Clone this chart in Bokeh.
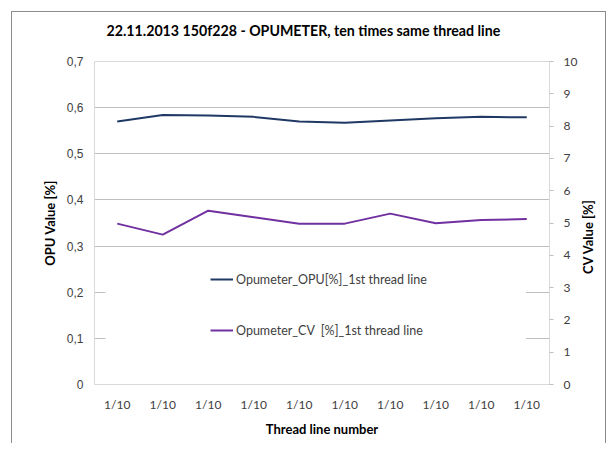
import math
from bokeh.plotting import figure
from bokeh.models import (Range1d, LinearAxis, FixedTicker, CustomJSTickFormatter,
                          Legend, LegendItem, BoxAnnotation, Title)
from bokeh.embed import file_html
from bokeh.resources import INLINE

# ---- data ----
categories = ["1/10"] * 10
opu_values = [0.570, 0.584, 0.583, 0.580, 0.570, 0.567, 0.572, 0.577, 0.580, 0.579]
cv_values = [4.98, 4.64, 5.38, 5.18, 4.98, 4.98, 5.29, 4.99, 5.09, 5.12]
left_ticks = [0, 0.1, 0.2, 0.3, 0.4, 0.5, 0.6, 0.7]
right_ticks = [0, 1, 2, 3, 4, 5, 6, 7, 8, 9, 10]
title_text = "22.11.2013 150f228 - OPUMETER,  ten times same thread line"
opu_label = "Opumeter_OPU[%]_1st thread line"
cv_label = "Opumeter_CV  [%]_1st thread line"
left_axis_title = "OPU Value [%]"
right_axis_title = "CV Value [%]"
x_axis_title = "Thread line number"

xs = list(range(1, len(categories) + 1))

p = figure(width=595, height=432, output_backend="svg", toolbar_location=None,
           x_range=Range1d(0.5, len(categories) + 0.5), y_range=Range1d(0, 0.7),
           min_border_left=82, min_border_right=51, min_border_top=49,
           min_border_bottom=60, background_fill_color="white",
           border_fill_color="white")
p.styles = {"border": "1px solid #8c8c8c", "border-bottom": "none",
            "margin-left": "11px", "margin-top": "11px"}

p.extra_y_ranges = {"cv": Range1d(0, 10)}

p.outline_line_color = "#d9d9d9"
p.outline_line_width = 1

# title: spacer next to the plot area, real title further out
p.add_layout(Title(text="\u00a0", text_font_size="1px", standoff=20), "above")
p.title = Title(text=title_text, align="left", offset=12, standoff=0,
                text_font="Lato", text_font_style="bold", text_font_size="14.2px",
                text_color="#000000")

# grid
p.xgrid.visible = False
p.ygrid.ticker = FixedTicker(ticks=left_ticks)
p.ygrid.grid_line_color = "#bfbfbf"
p.ygrid.grid_line_width = 1

# left axis
ya = p.yaxis[0]
ya.ticker = FixedTicker(ticks=left_ticks)
ya.formatter = CustomJSTickFormatter(code="return tick == 0 ? '0' : tick.toFixed(1).replace('.', ',');")
ya.axis_line_color = None
ya.major_tick_line_color = None
ya.minor_tick_line_color = None
ya.major_tick_out = 0
ya.major_tick_in = 0
ya.major_label_standoff = 11
ya.major_label_text_font = "Liberation Sans"
ya.major_label_text_font_size = "12px"
ya.major_label_text_color = "#404040"
ya.axis_label = left_axis_title
ya.axis_label_text_font = "Lato"
ya.axis_label_text_font_style = "bold"
ya.axis_label_text_font_size = "13px"
ya.axis_label_text_color = "#000000"
ya.axis_label_standoff = 6

# bottom axis
xa = p.xaxis[0]
xa.ticker = FixedTicker(ticks=xs)
xa.major_label_overrides = {x: c for x, c in zip(xs, categories)}
xa.axis_line_color = None
xa.major_tick_line_color = None
xa.minor_tick_line_color = None
xa.major_tick_out = 0
xa.major_tick_in = 0
xa.major_label_standoff = 12
xa.major_label_text_font = "Lato"
xa.major_label_text_font_size = "12px"
xa.major_label_text_color = "#404040"
xa.axis_label = x_axis_title
xa.axis_label_text_font = "Lato"
xa.axis_label_text_font_style = "bold"
xa.axis_label_text_font_size = "13px"
xa.axis_label_text_color = "#000000"
xa.axis_label_standoff = 6

# right axis
ra = LinearAxis(y_range_name="cv", ticker=FixedTicker(ticks=right_ticks))
ra.axis_line_color = "#d9d9d9"
ra.major_tick_line_color = "#bfbfbf"
ra.minor_tick_line_color = None
ra.major_tick_out = 4
ra.major_tick_in = 0
ra.major_label_standoff = 10
ra.major_label_text_font = "Lato"
ra.major_label_text_font_size = "12px"
ra.major_label_text_color = "#404040"
ra.axis_label = "\u2003" * 11 + "\u00a0" + right_axis_title
ra.axis_label_orientation = math.pi / 2
ra.axis_label_align = "start"
ra.axis_label_text_font = "Lato"
ra.axis_label_text_font_style = "bold"
ra.axis_label_text_font_size = "13px"
ra.axis_label_text_color = "#000000"
ra.axis_label_standoff = 8
p.add_layout(ra, "right")

# lines
r_opu = p.line(xs, opu_values, line_color="#203864", line_width=2)
r_cv = p.line(xs, cv_values, line_color="#7030a0", line_width=2, y_range_name="cv")

# white area behind legend (hides gridlines as in original)
p.add_layout(BoxAnnotation(left=0.74, right=9.98, bottom=0.05, top=0.28,
                           fill_color="white", fill_alpha=1.0, line_color=None,
                           level="underlay"))

legend = Legend(items=[LegendItem(label=opu_label, renderers=[r_opu]),
                       LegendItem(label=cv_label, renderers=[r_cv])],
                location=(116, 44), orientation="vertical",
                background_fill_alpha=0, border_line_color=None,
                padding=0, margin=0, spacing=31,
                glyph_width=23, glyph_height=20, label_height=20,
                label_standoff=3,
                label_text_font="Lato", label_text_font_size="12.5px",
                label_text_color="#404040")
p.add_layout(legend, "center")

open("out.html", "w").write(file_html(p, INLINE))
